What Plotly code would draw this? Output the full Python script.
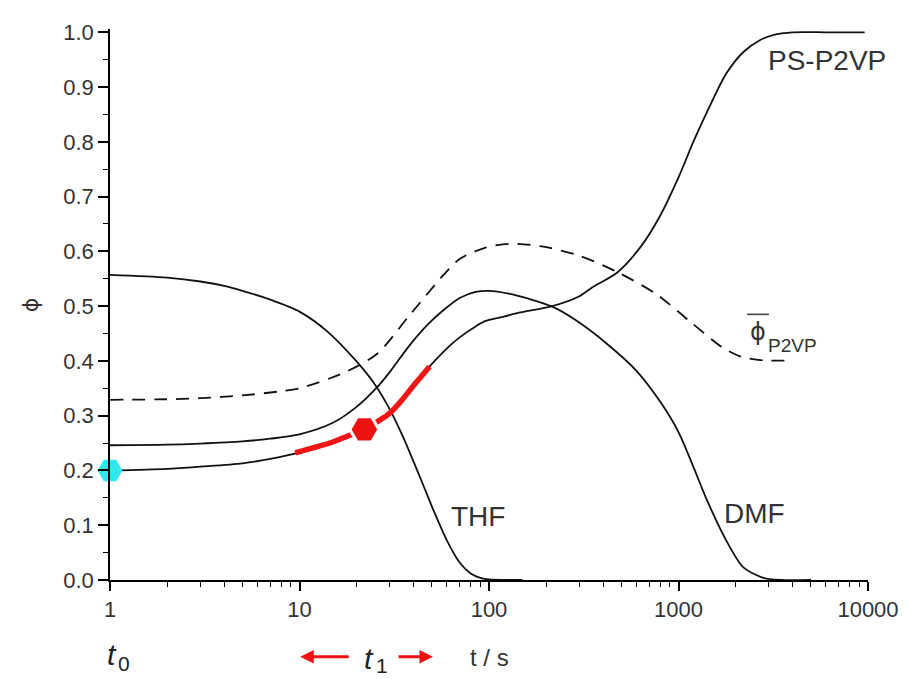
import plotly.graph_objects as go

# ---------------- data ----------------
thf_t = [1, 2, 3, 4, 5, 7, 10, 14, 20, 25, 30, 35, 40, 45, 50, 60, 70, 80, 90, 100, 150]
thf_phi = [0.557, 0.552, 0.545, 0.537, 0.528, 0.512, 0.49, 0.454, 0.399, 0.357, 0.311, 0.263,
           0.216, 0.173, 0.134, 0.072, 0.032, 0.012, 0.004, 0.001, 0.0]

dmf_t = [1, 2, 3, 5, 7, 10, 15, 20, 25.7, 30, 38, 48, 57.6, 70, 85, 100, 127, 160, 216, 285,
         420, 600, 810, 1000, 1200, 1400, 1800, 2200, 2800, 3500, 5000]
dmf_phi = [0.246, 0.247, 0.249, 0.253, 0.258, 0.266, 0.287, 0.316, 0.352, 0.38, 0.428, 0.468, 0.493,
           0.515, 0.526, 0.528, 0.523, 0.514, 0.499, 0.475, 0.431, 0.382, 0.323, 0.27, 0.206, 0.149,
           0.07, 0.023, 0.004, 0.0, 0.0]

ps_t = [1, 2, 3, 5, 7, 10, 15, 22, 30, 38, 48.6, 60, 70, 85, 96, 120, 144, 216, 300, 350, 477,
        637, 800, 1000, 1205, 1523, 1790, 2200, 2700, 3160, 4000, 6000, 9600]
ps_phi = [0.2, 0.203, 0.207, 0.213, 0.221, 0.233, 0.252, 0.275, 0.305, 0.347, 0.39, 0.423, 0.443,
          0.463, 0.473, 0.481, 0.488, 0.5, 0.518, 0.534, 0.562, 0.61, 0.665, 0.735, 0.802, 0.878,
          0.925, 0.964, 0.986, 0.995, 1.0, 1.0, 1.0]

red_t = [9.5, 12, 15, 18, 22, 26, 30, 35, 40, 44, 48.6]
red_phi = [0.232, 0.242, 0.252, 0.263, 0.275, 0.29, 0.305, 0.33, 0.355, 0.372, 0.39]

pbar_t = [1, 2, 3, 5, 7.7, 10, 17.3, 25.7, 38, 57.6, 70, 96, 130, 190, 300, 477, 770, 1150,
          1700, 2130, 2800, 3970]
pbar_phi = [0.329, 0.33, 0.332, 0.337, 0.344, 0.35, 0.379, 0.413, 0.483, 0.557, 0.586, 0.607,
            0.614, 0.609, 0.592, 0.562, 0.521, 0.472, 0.425, 0.408, 0.401, 0.401]

t0_point = ([1], [0.2])
t1_point = ([22], [0.275])

x_tick_vals = [1, 10, 100, 1000, 10000]
x_tick_text = ["1", "10", "100", "1000", "10000"]
x_minor_vals = [d * 10 ** k for k in range(4) for d in range(2, 10)]

# ---------------- layout helpers ----------------
# the page body has an 8px margin, so the figure starts at (8, 8) of the window
OFF = 8
W, H = 903, 671
L, R, T, B = 102, 36, 12, 99
PW, PH = W - L - R, H - T - B


def px(x):
    """window pixel x -> paper coordinate"""
    return (x - OFF - L) / PW


def py(y):
    """window pixel y -> paper coordinate"""
    return (H - B - (y - OFF)) / PH


FONT = "Liberation Sans, Arial, sans-serif"
TXT = "#333333"

fig = go.Figure()
line_style = dict(color="#111111", width=1.8, shape="spline", smoothing=0.8)

fig.add_trace(go.Scatter(x=thf_t, y=thf_phi, mode="lines", line=line_style, name="THF"))
fig.add_trace(go.Scatter(x=dmf_t, y=dmf_phi, mode="lines", line=line_style, name="DMF"))
fig.add_trace(go.Scatter(x=ps_t, y=ps_phi, mode="lines", line=line_style, name="PS-P2VP"))
fig.add_trace(go.Scatter(x=pbar_t, y=pbar_phi, mode="lines",
                         line=dict(color="#111111", width=1.8, shape="spline", smoothing=0.8,
                                   dash="13px,9px"), name="phi P2VP"))
fig.add_trace(go.Scatter(x=red_t, y=red_phi, mode="lines",
                         line=dict(color="#f01414", width=5.5, shape="spline"), name="t1 range"))
fig.add_trace(go.Scatter(x=t1_point[0], y=t1_point[1], mode="markers", cliponaxis=False,
                         marker=dict(symbol="hexagon2", size=29, color="#ee1111",
                                     line=dict(color="white", width=3)), name="t1"))
fig.add_trace(go.Scatter(x=t0_point[0], y=t0_point[1], mode="markers", cliponaxis=False,
                         marker=dict(symbol="hexagon2", size=25, color="#30e8f0",
                                     line=dict(width=0)), name="t0"))

fig.update_layout(
    width=W, height=H,
    margin=dict(l=L, r=R, t=T, b=B),
    paper_bgcolor="white", plot_bgcolor="white",
    showlegend=False,
    font=dict(family=FONT, color=TXT),
)

fig.update_xaxes(
    type="log", range=[0, 4],
    tickvals=x_tick_vals, ticktext=x_tick_text,
    ticks="outside", ticklen=9, tickwidth=1.5, tickcolor="black",
    showline=True, linecolor="black", linewidth=1.5,
    showgrid=False, zeroline=False,
    tickfont=dict(family=FONT, size=22, color=TXT),
    ticklabeloverflow="allow",
    minor=dict(tickvals=x_minor_vals, ticks="outside", ticklen=5, tickwidth=1.2,
               tickcolor="black", showgrid=False),
)
fig.update_yaxes(
    range=[0, 1.006], tick0=0, dtick=0.1, tickformat=".1f",
    ticks="outside", ticklen=10, tickwidth=1.5, tickcolor="black",
    showline=True, linecolor="black", linewidth=1.5,
    showgrid=False, zeroline=False,
    tickfont=dict(family=FONT, size=22, color=TXT),
    ticklabeloverflow="allow",
    minor=dict(dtick=0.05, ticks="outside", ticklen=5, tickwidth=1.2,
               tickcolor="black", showgrid=False),
)

ann = []


def text(x, y, s, size, color=TXT, angle=0, xanchor="center", family=FONT):
    ann.append(dict(x=px(x), y=py(y), xref="paper", yref="paper", text=s, showarrow=False,
                    font=dict(family=family, size=size, color=color), textangle=angle,
                    xanchor=xanchor, yanchor="middle", borderpad=0))


PHI_FONT = "DejaVu Sans, sans-serif"
text(30, 300, "ϕ", 22, angle=-90, family=PHI_FONT)
text(834, 52, "PS-P2VP", 28)
text(481, 515, "THF", 28)
text(760, 512, "DMF", 28)
text(764, 328, "ϕ", 24, family=PHI_FONT)
text(773, 342, "P2VP", 19, xanchor="left")
# t0 / t1 symbols (italic t with subscript)
text(112, 656, "<i>t</i>", 30, color="#222222")
text(124, 665, "0", 21, color="#222222")
text(371, 660, "<i>t</i>", 30, color="#222222")
text(385, 667, "1", 21, color="#222222")
text(493, 659, "t / s", 24)

# red arrows around t1
ann.append(dict(x=px(302), y=py(658), xref="paper", yref="paper", text="", showarrow=True,
                ax=50, ay=0, arrowcolor="#ee1111", arrowwidth=3, arrowhead=2, arrowsize=0.9,
                standoff=0, startstandoff=0))
ann.append(dict(x=px(436), y=py(658), xref="paper", yref="paper", text="", showarrow=True,
                ax=-36, ay=0, arrowcolor="#ee1111", arrowwidth=3, arrowhead=2, arrowsize=0.9,
                standoff=0, startstandoff=0))
fig.update_layout(annotations=ann)

# overline on the averaged phi label
fig.add_shape(type="line", xref="paper", yref="paper",
              x0=px(753), x1=px(775), y0=py(310), y1=py(310),
              line=dict(color="#444444", width=1.6))

fig.write_html("out.html")
